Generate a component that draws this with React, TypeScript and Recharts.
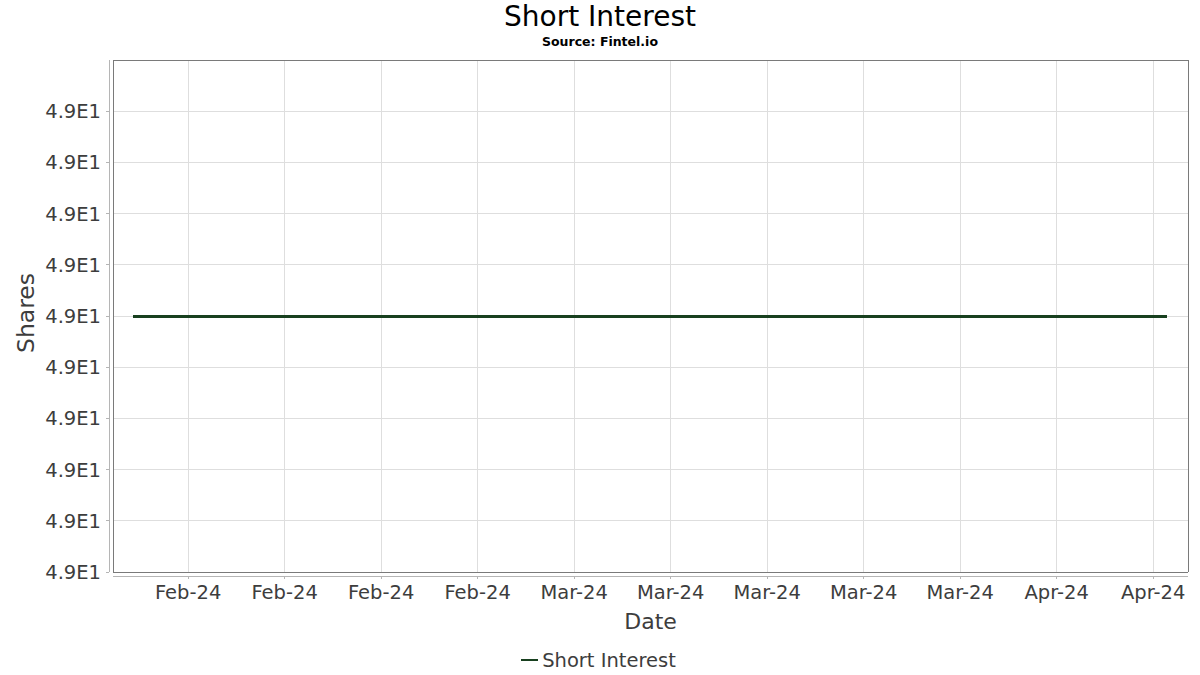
import { LineChart, Line, XAxis, YAxis, CartesianGrid, Legend } from "recharts";

// settlement dates of the short interest reports
const dates = [
  "2024-01-31",
  "2024-02-15",
  "2024-02-29",
  "2024-03-15",
  "2024-03-28",
  "2024-04-15",
];
const shortInterest = [49, 49, 49, 49, 49, 49];

const xTicks = [
  "2024-02-04",
  "2024-02-11",
  "2024-02-18",
  "2024-02-25",
  "2024-03-03",
  "2024-03-10",
  "2024-03-17",
  "2024-03-24",
  "2024-03-31",
  "2024-04-07",
  "2024-04-14",
];
const yTicks = [
  48.9995, 48.9996, 48.9997, 48.9998, 48.9999, 49.0, 49.0001, 49.0002,
  49.0003, 49.0004,
];
const yDomain = [48.9995, 49.0005];

const months = ["Jan", "Feb", "Mar", "Apr", "May", "Jun", "Jul", "Aug", "Sep", "Oct", "Nov", "Dec"];

const toTime = (s: string) => Date.parse(s + "T00:00:00Z");

const data = dates.map((d, i) => ({ t: toTime(d), value: shortInterest[i] }));

const FONT = "'DejaVu Sans', sans-serif";
const TEXT = "#3d3d3d";
const LINE = "#18401f";

const fmtDate = (t: number) => {
  const d = new Date(t);
  return months[d.getUTCMonth()] + "-" + String(d.getUTCFullYear()).slice(2);
};

const YLabel = ({ viewBox }: any) => {
  const cx = 34;
  const cy = viewBox.y + viewBox.height / 2 - 3;
  return (
    <text
      x={cx}
      y={cy}
      transform={`rotate(-90, ${cx}, ${cy})`}
      textAnchor="middle"
      fontSize={23.5}
      fontFamily={FONT}
      fill={TEXT}
    >
      Shares
    </text>
  );
};

const LegendContent = () => (
  <div
    style={{
      height: 30,
      display: "flex",
      justifyContent: "center",
      alignItems: "center",
      paddingLeft: 9,
      fontFamily: FONT,
      fontSize: 19.5,
      color: TEXT,
    }}
  >
    <svg width={21} height={10}>
      <line x1={0} y1={5} x2={17} y2={5} stroke={LINE} strokeWidth={2.5} />
    </svg>
    <span>Short Interest</span>
  </div>
);

export default function App() {
  return (
    <div style={{ position: "absolute", left: 0, top: 0, width: 1200, height: 675, background: "#fff" }}>
      <div
        style={{
          position: "absolute",
          top: 3,
          width: 1200,
          textAlign: "center",
          fontFamily: FONT,
          fontSize: 28,
          lineHeight: "28px",
          color: "#000",
        }}
      >
        Short Interest
      </div>
      <div
        style={{
          position: "absolute",
          top: 36,
          width: 1200,
          textAlign: "center",
          fontFamily: FONT,
          fontSize: 12.5,
          fontWeight: "bold",
          lineHeight: "12.5px",
          color: "#000",
        }}
      >
        Source: Fintel.io
      </div>
      <LineChart
        width={1200}
        height={675}
        data={data}
        margin={{ top: 60, right: 12, left: 0, bottom: 0 }}
        style={{ shapeRendering: "crispEdges" }}
      >
        <CartesianGrid stroke="#dedede" strokeWidth={1} />
        <CartesianGrid
          stroke="#7a7a7a"
          strokeWidth={1}
          horizontalCoordinatesGenerator={({ offset }: any) => [offset.top, offset.top + offset.height]}
          verticalCoordinatesGenerator={({ offset }: any) => [offset.left, offset.left + offset.width]}
        />
        <XAxis
          dataKey="t"
          type="number"
          scale="time"
          domain={["dataMin", "dataMax"]}
          padding={{ left: 20, right: 21 }}
          ticks={xTicks.map(toTime)}
          tickFormatter={fmtDate}
          height={73}
          tickSize={3}
          tickMargin={10}
          axisLine={{ stroke: "#b5b5b5", transform: "translate(0,4)" }}
          tickLine={{ stroke: "#b5b5b5", transform: "translate(0,4)" }}
          tick={{ fill: TEXT, fontSize: 19.5, fontFamily: FONT }}
          label={{
            value: "Date",
            position: "insideBottom",
            offset: 16,
            fill: TEXT,
            fontSize: 22,
            fontFamily: FONT,
          }}
        />
        <YAxis
          type="number"
          domain={yDomain}
          ticks={yTicks}
          allowDataOverflow
          tickFormatter={() => "4.9E1"}
          width={113}
          tickSize={3}
          tickMargin={9}
          axisLine={{ stroke: "#b5b5b5", transform: "translate(-4,0)" }}
          tickLine={{ stroke: "#b5b5b5", transform: "translate(-4,0)" }}
          tick={{ fill: TEXT, fontSize: 19.5, fontFamily: FONT }}
          label={<YLabel />}
        />
        <Legend verticalAlign="bottom" height={30} content={<LegendContent />} />
        <Line
          dataKey="value"
          name="Short Interest"
          stroke={LINE}
          strokeWidth={3}
          dot={false}
          isAnimationActive={false}
        />
      </LineChart>
    </div>
  );
}
